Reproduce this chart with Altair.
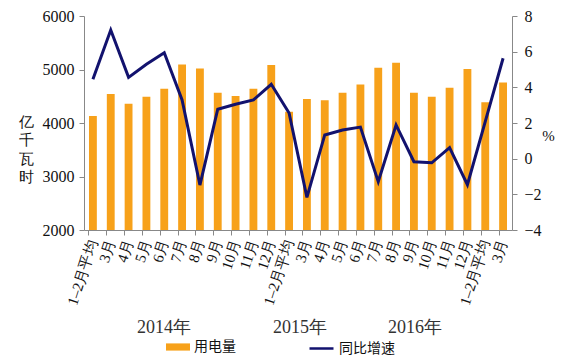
import altair as alt
import pandas as pd

years = ["2014"] * 11 + ["2015"] * 11 + ["2016"] * 2
months = (["1–2月平均", "3月", "4月", "5月", "6月", "7月", "8月", "9月", "10月", "11月", "12月"] * 2
          + ["1–2月平均", "3月"])
usage = [4130, 4540, 4360, 4490, 4640, 5095, 5020, 4565, 4505, 4640, 5085,
         4208, 4450, 4425, 4565, 4720, 5035, 5125, 4565, 4490, 4660, 5010,
         4387, 4755]
growth = [4.45, 7.21, 4.56, 5.29, 5.94, 3.29, -1.48, 2.77, 3.05, 3.29, 4.17,
          2.56, -2.17, 1.33, 1.61, 1.77, -1.29, 1.89, -0.17, -0.23, 0.62, -1.46,
          2.08, 5.63]
year_labels = ["2014年", "2015年", "2016年"]

keys = [f"{i:02d}|{m}" for i, m in enumerate(months)]
df = pd.DataFrame({"key": keys, "year": years, "usage": usage, "growth": growth,
                   "base": 2000, "s1": "用电量", "s2": "同比增速"})

SERIF = "Liberation Serif"
CJK = "Noto Sans CJK SC"

x = alt.X("key:N", sort=keys,
          scale=alt.Scale(paddingInner=0.56, paddingOuter=0.28),
          axis=alt.Axis(title=None, labelExpr="split(datum.value, '|')[1]",
                        labelAngle=-72, labelFontSize=15, labelFont=SERIF,
                        tickSize=5, labelPadding=5, bandPosition=0, labelLimit=200))

bars = alt.Chart(df).mark_bar(color="#F7A11A").encode(
    x=x,
    y=alt.Y("usage:Q", scale=alt.Scale(domain=[2000, 6000], nice=False, zero=False),
            axis=alt.Axis(values=[2000, 3000, 4000, 5000, 6000], format="d",
                          title=["亿", "千", "瓦", "时"], titleFont=SERIF, labelFont=SERIF,
                          titleAngle=0, titleX=-66, titleY=98, titleBaseline="top",
                          titleAlign="left", titleFontSize=15,
                          titleLineHeight=18.5, labelFontSize=16,
                          tickSize=5, labelPadding=5)),
    y2="base:Q",
    color=alt.Color("s1:N", scale=alt.Scale(domain=["用电量"], range=["#F7A11A"]),
                    legend=alt.Legend(orient="none", legendX=82, legendY=319, title=None,
                                      symbolType="M-1,-0.3H1V0.3H-1Z", symbolSize=576,
                                      symbolStrokeWidth=0, labelFont=CJK, labelFontSize=14,
                                      labelColor="#111", labelOffset=4)),
)

line = alt.Chart(df).mark_line(color="#12126E", strokeWidth=3).encode(
    x=alt.X("key:N", sort=keys),
    y=alt.Y("growth:Q", scale=alt.Scale(domain=[-4, 8], nice=False),
            axis=alt.Axis(orient="right", values=[-4, -2, 0, 2, 4, 6, 8], title="%",
                          titleAngle=0, titleX=36, titleY=119, titleBaseline="middle",
                          titleFontSize=15,
                          labelFontSize=16, labelFont=SERIF, titleFont=SERIF,
                          labelExpr="replace(datum.label, '-', '−')",
                          tickSize=5, labelPadding=7)),
    stroke=alt.Stroke("s2:N", scale=alt.Scale(domain=["同比增速"], range=["#12126E"]),
                      legend=alt.Legend(orient="none", legendX=224, legendY=319, title=None,
                                        symbolType="stroke", symbolSize=576,
                                        symbolStrokeWidth=2.5, labelFont=CJK, labelFontSize=14,
                                        labelColor="#111", labelOffset=4)),
)

ylab = pd.DataFrame({"t": year_labels, "px": [80, 216, 331]})
years_text = alt.Chart(ylab).mark_text(font=SERIF, fontSize=18, color="#333",
                                       baseline="middle").encode(
    text="t:N", x=alt.X("px:Q", scale=None), y=alt.value(312))

chart = alt.layer(bars, line, years_text).resolve_scale(
    y="independent", color="independent", stroke="independent"
).properties(
    width=428, height=214,
    autosize=alt.AutoSizeParams(type="none"),
    padding={"left": 76, "top": 8, "right": 45, "bottom": 130},
).configure_view(stroke=None).configure_axis(
    labelFont=SERIF, titleFont=SERIF, labelColor="#111", titleColor="#111",
    titleFontWeight="normal", domainColor="#888", tickColor="#888", grid=False,
)

chart.save("out.html", embed_options={"renderer": "svg", "actions": False})
